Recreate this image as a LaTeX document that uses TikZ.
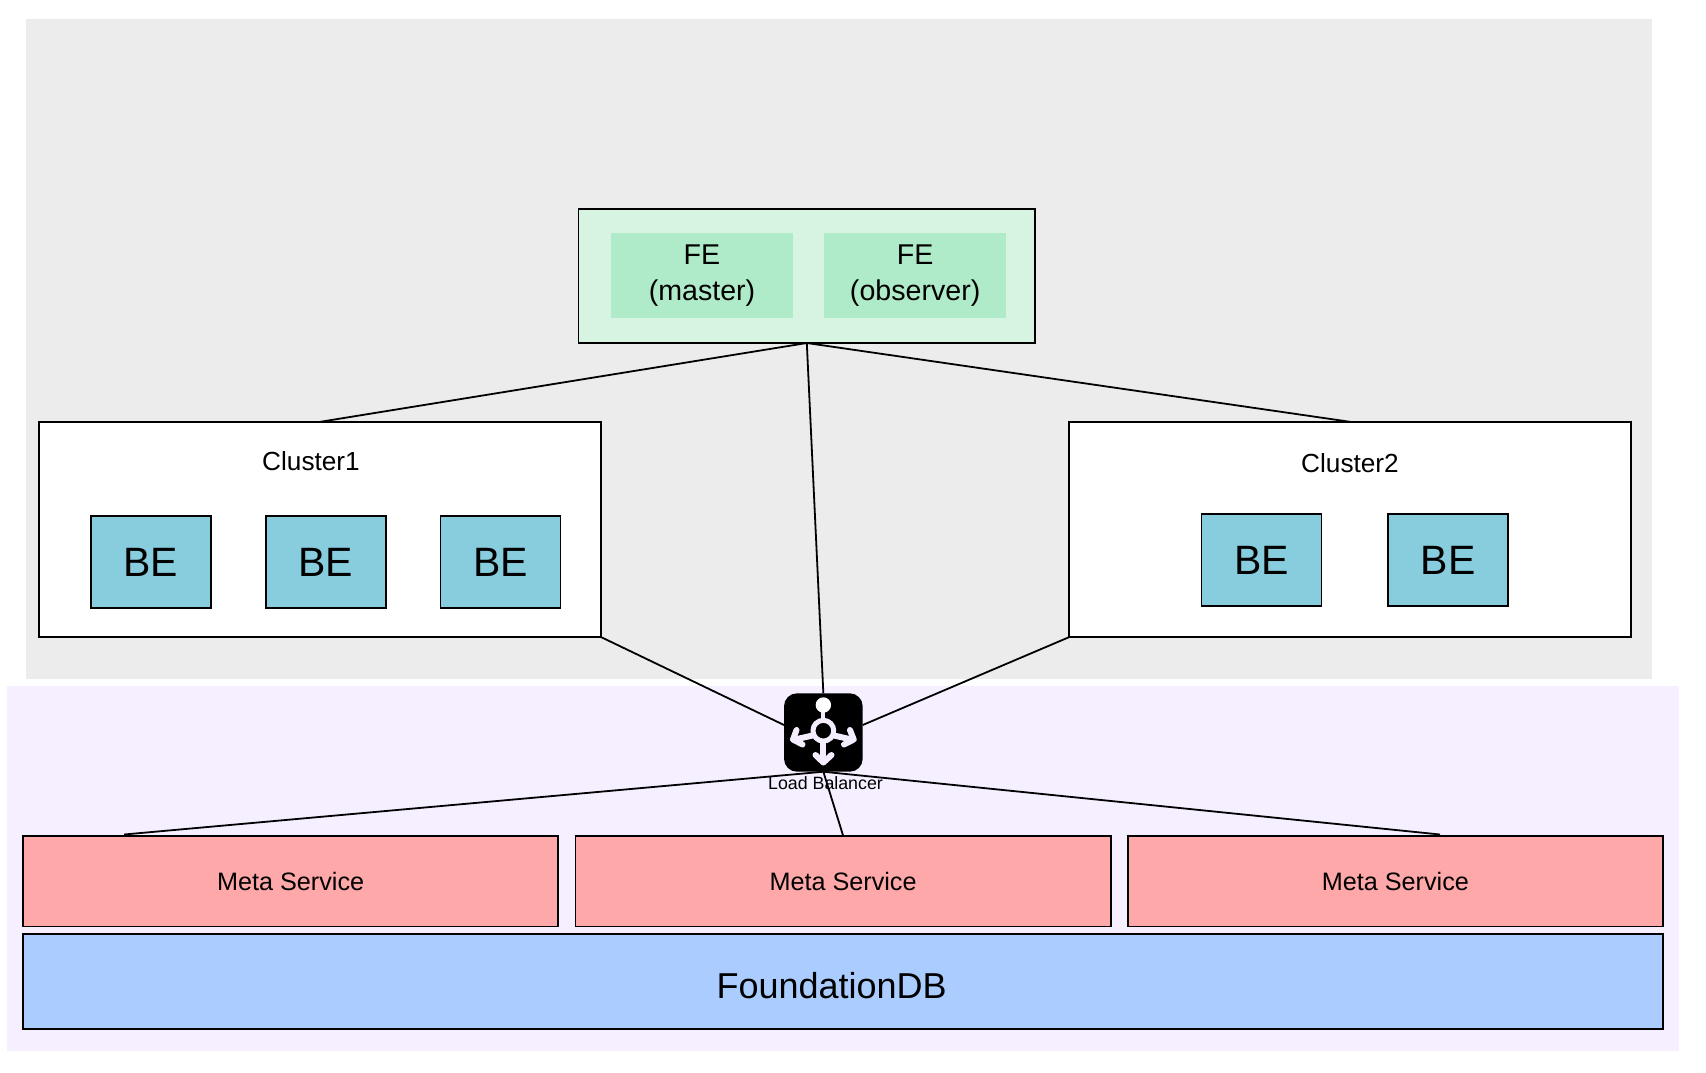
\documentclass[tikz,border=0pt]{standalone}
\usepackage{fontspec}
\setmainfont{Liberation Sans}
\definecolor{bgGray}{HTML}{ECECEC}
\definecolor{bgLilac}{HTML}{F6EFFF}
\definecolor{feOuter}{HTML}{D7F4E3}
\definecolor{feInner}{HTML}{AFEBC8}
\definecolor{beBlue}{HTML}{88CDDE}
\definecolor{metaRed}{HTML}{FFA8A9}
\definecolor{fdbBlue}{HTML}{AACCFF}
\definecolor{iconLilac}{HTML}{F4EDFE}
\tikzset{
  rect/.style={rectangle,inner sep=0pt,outer sep=0pt,line width=1.7pt},
  panel/.style={rect,draw=none},
  box/.style={rect,draw=black},
  cap26/.style={font=\fontsize{26.2}{31}\selectfont,text height=18.6pt,text depth=0pt,inner sep=0pt,outer sep=0pt},
  bebox/.style={box,fill=beBlue,minimum width=120pt,minimum height=92pt,font=\fontsize{41}{49}\selectfont,text height=29.3pt,text depth=0pt},
  metabox/.style={box,fill=metaRed,minimum width=535.3pt,minimum height=90.7pt,font=\fontsize{25.2}{31}\selectfont,text height=18pt,text depth=0pt},
  febox/.style={panel,fill=feInner,minimum width=182pt,minimum height=85pt,align=center,font=\fontsize{28.6}{36.7}\selectfont},
  link/.style={line width=1.8pt,draw=black},
  iconstroke/.style={draw=iconLilac,line width=6pt,line cap=round,line join=round}
}
\begin{document}
\begin{tikzpicture}[x=1pt,y=-1pt]
\useasboundingbox (0,0) rectangle (1706,1072);
\node[panel,fill=bgGray,minimum width=1626pt,minimum height=660.5pt] (cloud) at (839,348.75) {};
\node[panel,fill=bgLilac,minimum width=1672.7pt,minimum height=364.9pt] (metaarea) at (842.9,868.25) {};
\node[box,fill=feOuter,minimum width=456.4pt,minimum height=134pt] (fe) at (806.8,276) {};
\node[febox] (fem) at (702,275.6) {FE\\(master)};
\node[febox] (feo) at (915.15,275.6) {FE\\(observer)};
\node[box,fill=white,minimum width=562pt,minimum height=215.2pt] (c1) at (320,529.45) {};
\node[box,fill=white,minimum width=562pt,minimum height=215.2pt] (c2) at (1350.3,529.45) {};
\node[cap26] (c1t) at (311,461.4) {Cluster1};
\node[cap26] (c2t) at (1350,463.4) {Cluster2};
\node[bebox] (b1) at (150.9,561.85) {BE};
\node[bebox] (b2) at (325.7,561.85) {BE};
\node[bebox] (b3) at (500.6,561.85) {BE};
\node[bebox] (b4) at (1261.5,560.2) {BE};
\node[bebox] (b5) at (1448,560.2) {BE};
\node[metabox] (m1) at (290.65,881) {Meta Service};
\node[metabox] (m2) at (843.1,881) {Meta Service};
\node[metabox] (m3) at (1395.4,881) {Meta Service};
\node[box,fill=fdbBlue,minimum width=1640pt,minimum height=95.3pt] (fdb) at (843,981.65) {};
\node[inner sep=0pt,outer sep=0pt,font=\fontsize{36}{43}\selectfont,text height=25.8pt,text depth=0pt] (fdbt) at (831.7,985.6) {FoundationDB};
% load balancer icon
\node[rect,fill=black,rounded corners=13pt,minimum width=78.7pt,minimum height=78.4pt] (lb) at (823.35,732.5) {};
\draw[iconstroke,line cap=butt,line width=4.2pt] (823.35,710) -- (823.35,720);
\fill[white] (823.35,705) circle (7.7);
\draw[iconstroke,line width=5pt] (823.35,730.7) circle (10.4);
\draw[iconstroke,line cap=butt] (823.35,741) -- (823.35,762);
\draw[iconstroke] (815.5,755) -- (823.35,762.5) -- (831.5,755);
\draw[iconstroke,line cap=butt] (812.5,735.5) -- (795,739.5);
\draw[iconstroke] (796.5,730) -- (793,739.5) -- (802.5,744.5);
\draw[iconstroke,line cap=butt] (834,735.5) -- (851.5,739.5);
\draw[iconstroke] (850,730) -- (853.7,739.5) -- (844,744.5);
\node[inner sep=0pt,outer sep=0pt,font=\fontsize{17.8}{21}\selectfont,text height=12.8pt,text depth=0pt] (lbt) at (825.5,783) {Load Balancer};
\coordinate (lbw) at ([yshift=7.5pt]lb.west);
\coordinate (lbe) at ([yshift=7.5pt]lb.east);
\coordinate (m1top) at (124,834.5);
\coordinate (m3top) at (1440,834.5);
% connectors
\draw[link] (fe.south) -- (c1.north);
\draw[link] (fe.south) -- (lb.north);
\draw[link] (fe.south) -- (c2.north);
\draw[link] (c1.south east) -- (lbw);
\draw[link] (c2.south west) -- (lbe);
\draw[link] (lb.south) -- (m1top);
\draw[link] (lb.south) -- (m2.north);
\draw[link] (lb.south) -- (m3top);
\end{tikzpicture}
\end{document}
